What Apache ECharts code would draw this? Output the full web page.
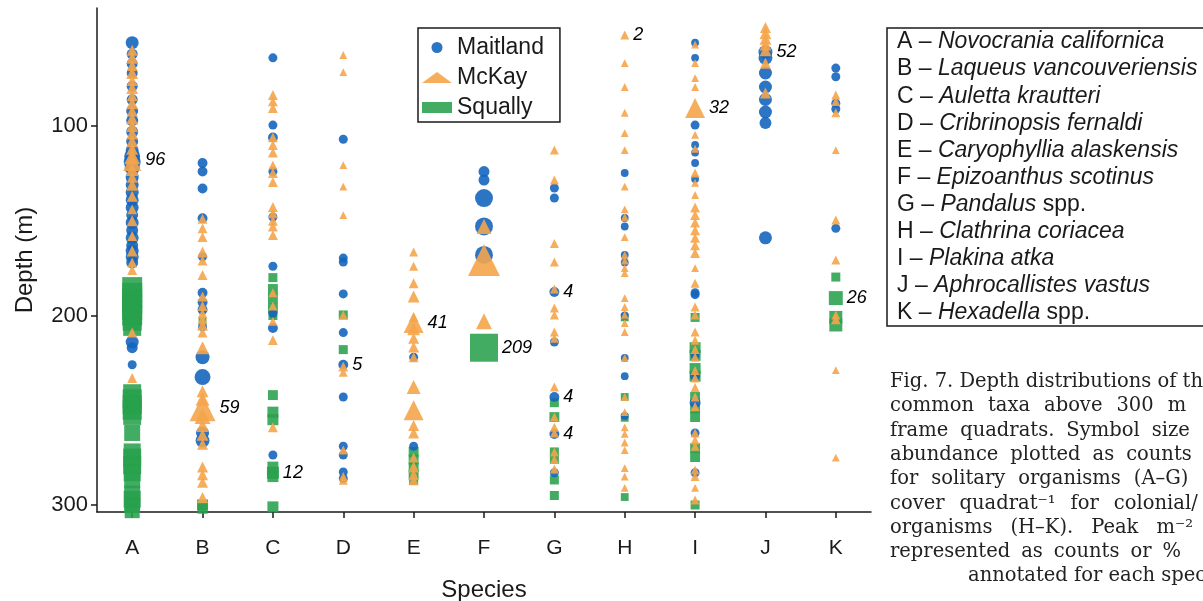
<!DOCTYPE html>
<html>
<head>
<meta charset="utf-8">
<script src="https://cdn.jsdelivr.net/npm/echarts@6/dist/echarts.min.js"></script>
<style>
  html, body { margin: 0; padding: 0; background: #fff; }
  #chart { width: 1203px; height: 601px; }
</style>
</head>
<body>
<div id="chart"></div>
<script>
// ---- data ----
var species = ['A', 'B', 'C', 'D', 'E', 'F', 'G', 'H', 'I', 'J', 'K'];
var depthTicks = [100, 200, 300];

// [species, depth (m), abundance]
var maitland = [
  ['A',56,16],['A',62,9],['A',67,9],['A',72,9],['A',79,9],['A',86,9],['A',92,12],['A',97,12],['A',103,12],
  ['A',108,12],['A',113,16],['A',116,30],['A',119,36],['A',122,25],['A',127,16],['A',131,16],['A',135,16],
  ['A',139,16],['A',143,16],['A',147,12],['A',151,16],['A',155,12],['A',159,16],['A',163,12],['A',166,16],
  ['A',169,16],['A',172,12],['A',214,16],['A',217,9],['A',226,4],
  ['B',119.5,6],['B',124,6],['B',133,6],['B',148.6,6],['B',169,4],['B',188,6],['B',193,6],['B',197,6],
  ['B',206,4],['B',222,20],['B',232.5,30],['B',262,16],['B',266,20],
  ['C',64,4],['C',99.5,4],['C',106,6],['C',124,4],['C',148,4],['C',174,4],['C',199,4],['C',206.6,6],['C',273.6,4],
  ['D',107,4],['D',169.7,4],['D',171.8,4],['D',188.6,4],['D',209,4],['D',226,6],['D',243,4],['D',269,4],
  ['D',273.6,4],['D',282.6,4],['D',286,4],
  ['E',222,4],['E',269,4],
  ['F',124,9],['F',128.5,9],['F',138,42],['F',153,42],['F',168,42],
  ['G',132.7,4],['G',138,4],['G',187.6,6],['G',214,4],['G',243,6],['G',262.5,6],['G',283,4],
  ['H',124.8,2],['H',148.5,2],['H',153,2],['H',168,2],['H',172,2],['H',200,2],['H',222.4,2],['H',232,2],['H',253,2],
  ['I',56,2],['I',64,2],['I',99.5,4],['I',110,2],['I',114,2],['I',119.5,2],['I',128,2],['I',188,4],['I',189,4],
  ['I',221,4],['I',232,6],['I',246,9],['I',262,4],['I',283,4],
  ['J',61,20],['J',64,20],['J',72,16],['J',79.4,16],['J',86,16],['J',92.6,16],['J',98.4,12],['J',159,16],
  ['K',69.4,4],['K',74,4],['K',88,4],['K',91,4],['K',154,4]
];

var mckay = [
  ['A',60,9],['A',64,12],['A',68,9],['A',72,12],['A',76,9],['A',80,12],['A',84,9],['A',88,12],['A',92,9],
  ['A',96,12],['A',100,12],['A',104,12],['A',108,12],['A',112,12],['A',116,30],['A',119,42],['A',123,16],
  ['A',127,9],['A',131,12],['A',137,9],['A',144,6],['A',150,9],['A',158,6],['A',166,9],['A',172,6],['A',176,6],
  ['A',209,6],['A',233,6],
  ['B',149,6],['B',154,6],['B',158.6,6],['B',166.5,9],['B',171,6],['B',178.6,6],['B',190,6],['B',195,6],
  ['B',199,6],['B',202,6],['B',205,9],['B',209,6],['B',217,16],['B',240,12],['B',244,20],['B',249,110],
  ['B',253,30],['B',258,16],['B',263,12],['B',268,9],['B',280,9],['B',284,9],['B',288,9],['B',296,9],
  ['C',83.6,6],['C',87,6],['C',90.5,6],['C',106,6],['C',110,6],['C',114,6],['C',120.6,4],['C',124.8,6],
  ['C',129.5,6],['C',142.7,6],['C',146,6],['C',150,6],['C',153,6],['C',157.5,6],['C',188,4],['C',195,4],
  ['C',203,4],['C',213,6],['C',259,6],
  ['D',62.5,2],['D',71.5,2],['D',120.6,2],['D',132,2],['D',147,2],['D',199.7,4],['D',227,6],['D',230,4],
  ['D',271,4],['D',285,4],['D',287,4],
  ['E',166.5,4],['E',174,4],['E',183,6],['E',190,12],['E',200.8,6],['E',204,56],['E',207,16],['E',212,9],
  ['E',216.6,9],['E',222,6],['E',237.7,20],['E',250,56],['E',258,9],['E',262,9],['E',275,6],['E',280,9],
  ['E',284,9],['E',287,6],
  ['F',153,25],['F',170.7,180],['F',203,30],
  ['G',112.7,4],['G',128.5,4],['G',162,4],['G',171.8,4],['G',186,4],['G',196,4],['G',199.7,4],['G',208.7,4],
  ['G',212,4],['G',237.7,4],['G',253.6,4],['G',259,4],['G',262,4],['G',272,4],['G',276,4],['G',281,4],
  ['H',52,4],['H',66.8,2],['H',79.4,2],['H',93,2],['H',103.7,2],['H',112.7,2],['H',132,2],['H',144,2],
  ['H',148,2],['H',158.6,2],['H',168,2],['H',171,2],['H',175,2],['H',177.6,2],['H',190.8,2],['H',195.5,2],
  ['H',199.7,2],['H',204,2],['H',208.7,2],['H',222.4,2],['H',243,2],['H',251,2],['H',259,2],['H',262.5,2],
  ['H',267,2],['H',271,2],['H',280.5,2],['H',285,2],['H',291,2],
  ['I',57,2],['I',66.8,2],['I',74.7,2],['I',79.4,2],['I',90.5,56],['I',104.7,2],['I',112,2],['I',124.8,4],
  ['I',130,2],['I',136.4,2],['I',143,6],['I',147,6],['I',151,6],['I',155,6],['I',159,6],['I',163,6],['I',167,6],
  ['I',175,2],['I',183,4],['I',195.5,4],['I',199.7,4],['I',208.7,4],['I',213,4],['I',218,4],['I',222,4],
  ['I',229,4],['I',233,4],['I',238,4],['I',243,4],['I',248,4],['I',262,4],['I',265.7,4],['I',269,4],
  ['I',281.5,4],['I',285,4],['I',291,2],['I',297.4,4],
  ['J',48,9],['J',51,12],['J',54,12],['J',57,12],['J',60,12],['J',66.8,9],['J',82.6,9],
  ['K',83.6,4],['K',87,4],['K',93,4],['K',112.7,2],['K',149.6,4],['K',170.7,4],['K',199.7,4],['K',202,6],
  ['K',228.8,2],['K',275,2]
];

var squally = [
  ['A',185,56],['A',188,56],['A',191,56],['A',194,56],['A',197,56],['A',200,56],['A',203,49],['A',206,42],
  ['A',241,42],['A',244,49],['A',247,49],['A',250,49],['A',253,42],['A',262,30],['A',272,36],['A',275,42],
  ['A',279,42],['A',283,36],['A',287,30],['A',294,30],['A',297,36],['A',300,30],['A',303,25],
  ['B',203,2],['B',300,9],['B',302,6],
  ['C',180,4],['C',186,6],['C',191,6],['C',196,6],['C',200,4],['C',242,6],['C',251,9],['C',255,9],
  ['C',280,9],['C',283,12],['C',285,9],['C',301,9],
  ['D',199.7,4],['D',218,4],
  ['E',272,6],['E',276,6],['E',280,6],['E',284,6],['E',287,4],
  ['F',217,132],
  ['G',246,4],['G',253.6,6],['G',272,4],['G',276,4],['G',286.8,4],['G',295,4],
  ['H',201,2],['H',243,2],['H',254,2],['H',295.8,2],
  ['I',201,4],['I',217,9],['I',221,9],['I',228,9],['I',232,9],['I',243,6],['I',249,6],['I',253.6,6],
  ['I',270,6],['I',274.7,6],['I',300,4],
  ['K',179.7,4],['K',190.8,20],['K',201,16],['K',205,16]
];

// peak m^-2 annotation: [species, depth, abundance of that symbol, label]
var peaks = [
  ['A',118,42,'96'],['B',249,110,'59'],['C',283,12,'12'],['D',226,6,'5'],['E',204,56,'41'],
  ['F',217,132,'209'],['G',187.6,6,'4'],['G',243,6,'4'],['G',262.5,6,'4'],['H',52,4,'2'],
  ['I',90.5,56,'32'],['J',61,20,'52'],['K',190.8,20,'26']
];

var speciesNames = [
  ['A', 'Novocrania californica', ''],
  ['B', 'Laqueus vancouveriensis', ''],
  ['C', 'Auletta krautteri', ''],
  ['D', 'Cribrinopsis fernaldi', ''],
  ['E', 'Caryophyllia alaskensis', ''],
  ['F', 'Epizoanthus scotinus', ''],
  ['G', 'Pandalus', ' spp.'],
  ['H', 'Clathrina coriacea', ''],
  ['I', 'Plakina atka', ''],
  ['J', 'Aphrocallistes vastus', ''],
  ['K', 'Hexadella', ' spp.']
];

// caption lines (text runs off the right edge, as in the source)
var caption = [
  ['Fig. 7. Depth distributions of the'],
  ['common', 'taxa', 'above', '300', 'm'],
  ['frame', 'quadrats.', 'Symbol', 'size'],
  ['abundance', 'plotted', 'as', 'counts'],
  ['for', 'solitary', 'organisms', '(A–G)'],
  ['cover', 'quadrat⁻¹', 'for', 'colonial/'],
  ['organisms', '(H–K).', 'Peak', 'm⁻²'],
  ['represented', 'as', 'counts', 'or', '%'],
  ['annotated for each species']
];

// ---- layout / style ----
var sans = 'Liberation Sans, Arial, sans-serif';
var serifFont = '19.5px "DejaVu Serif", serif';
var ink = '#1a1a1a';
var blue = '#1565be';
var orange = '#f5a54b';
var green = '#28a04c';
var capGaps = [6, 14, 12, 12, 13, 15, 18, 11, 6];   // justified word spacing per caption line
var capIndent = [0, 0, 0, 0, 0, 0, 0, 0, 78];

function symSize(v) { return 5 + 2 * Math.sqrt(v[2]); }

var graphics = [];
graphics.push({
  type: 'rect',
  shape: { x: 887, y: 28, width: 340, height: 298 },
  style: { fill: 'none', stroke: ink, lineWidth: 1.5 }
});
speciesNames.forEach(function (s, i) {
  var txt = '{n|' + s[0] + ' – }{i|' + s[1] + '}' + (s[2] ? '{n|' + s[2] + '}' : '');
  graphics.push({
    type: 'text',
    x: 897, y: 42 + i * 27.1,
    style: {
      text: txt,
      verticalAlign: 'middle',
      rich: {
        n: { fontSize: 23, fontFamily: sans, fill: ink },
        i: { fontSize: 23, fontFamily: sans, fontStyle: 'italic', fill: ink }
      }
    }
  });
});

var ctx = document.createElement('canvas').getContext('2d');
ctx.font = serifFont;
caption.forEach(function (line, li) {
  var x = 890 + capIndent[li];
  line.forEach(function (w) {
    graphics.push({
      type: 'text',
      x: x, y: 382 + li * 24.3,
      style: { text: w, verticalAlign: 'middle', font: serifFont, fill: '#222' }
    });
    x += ctx.measureText(w).width + capGaps[li];
  });
});

var chart = echarts.init(document.getElementById('chart'), null, { renderer: 'canvas' });
chart.setOption({
  animation: false,
  backgroundColor: '#fff',
  grid: { left: 97, right: 332, top: 8, bottom: 89, containLabel: false, outerBoundsMode: 'none' },
  legend: {
    data: ['Maitland', 'McKay', 'Squally'],
    orient: 'vertical',
    left: 418, top: 28,
    padding: [8, 16, 3, 4],
    itemGap: 7,
    itemWidth: 30, itemHeight: 11,
    borderColor: ink, borderWidth: 1.5,
    textStyle: { fontSize: 23, fontFamily: sans, color: ink }
  },
  xAxis: {
    type: 'category',
    data: species,
    boundaryGap: true,
    name: 'Species',
    nameLocation: 'middle',
    nameGap: 66,
    nameTextStyle: { fontSize: 24, fontFamily: sans, color: ink },
    axisLine: { lineStyle: { color: ink, width: 1.5 } },
    axisTick: { show: true, alignWithLabel: true, length: 6, lineStyle: { color: ink, width: 1.5 } },
    axisLabel: { fontSize: 21, fontFamily: sans, color: ink, margin: 26 },
    splitLine: { show: false }
  },
  yAxis: {
    type: 'value',
    inverse: true,
    min: 37.7, max: 303.7,
    name: 'Depth (m)',
    nameLocation: 'middle',
    nameGap: 60,
    nameTextStyle: { fontSize: 24, fontFamily: sans, color: ink },
    axisLine: { show: true, lineStyle: { color: ink, width: 1.5 } },
    axisTick: { show: true, length: 6, customValues: depthTicks, lineStyle: { color: ink, width: 1.5 } },
    axisLabel: { fontSize: 22, fontFamily: sans, color: ink, margin: 9, customValues: depthTicks },
    splitLine: { show: false }
  },
  series: [
    {
      name: 'Squally', type: 'scatter', symbol: 'rect', symbolSize: symSize,
      itemStyle: { color: green, opacity: 0.88 }, data: squally
    },
    {
      name: 'Maitland', type: 'scatter', symbol: 'circle', symbolSize: symSize,
      itemStyle: { color: blue, opacity: 0.9 }, data: maitland
    },
    {
      name: 'McKay', type: 'scatter', symbol: 'triangle', symbolSize: symSize,
      itemStyle: { color: orange, opacity: 0.9 }, data: mckay
    },
    {
      name: 'peak', type: 'scatter', symbolSize: symSize, silent: true, z: 5,
      itemStyle: { color: 'rgba(0,0,0,0)' },
      label: {
        show: true, position: 'right', distance: 4, opacity: 1,
        formatter: function (p) { return p.value[3]; },
        fontSize: 18, fontStyle: 'italic', fontFamily: sans, color: '#000'
      },
      labelLayout: { hideOverlap: false },
      data: peaks
    }
  ],
  graphic: graphics
});
</script>
</body>
</html>
